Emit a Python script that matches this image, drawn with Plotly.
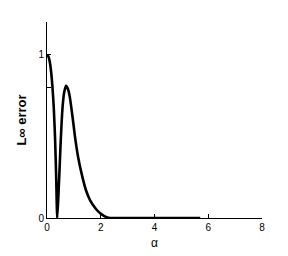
import plotly.graph_objects as go

alpha = [0.0, 0.05, 0.1, 0.15, 0.2, 0.25, 0.3, 0.34, 0.38,
         0.42, 0.46, 0.51, 0.58, 0.64, 0.71, 0.78, 0.85, 0.95, 1.04, 1.15, 1.29,
         1.45, 1.6, 1.8, 1.97, 2.15, 2.34, 3.0, 4.0, 5.0, 5.7]
err = [1.0, 0.99, 0.96, 0.90, 0.81, 0.68, 0.49, 0.26, 0.0,
       0.12, 0.27, 0.47, 0.68, 0.77, 0.81, 0.79, 0.74, 0.62, 0.50, 0.38, 0.27,
       0.17, 0.11, 0.06, 0.03, 0.01, 0.0, 0.0, 0.0, 0.0, 0.0]

x_ticks = [0, 2, 4, 6, 8]
y_ticks = [0, 0.8, 1, 1.2]
y_tick_text = ["0", "", "1", ""]

fig = go.Figure()
fig.add_trace(go.Scatter(x=alpha, y=err, mode="lines",
                         line=dict(color="black", width=2.6, shape="spline", smoothing=0.5),
                         showlegend=False))

fig.update_layout(
    width=288, height=256,
    margin=dict(l=39, r=34, t=14, b=46),
    paper_bgcolor="white", plot_bgcolor="white",
    font=dict(family="Liberation Sans, Arial, sans-serif", size=10, color="black"),
    annotations=[dict(text="α", xref="paper", yref="paper", x=0.5, y=0,
                      xanchor="center", yanchor="top", yshift=-16, showarrow=False,
                      font=dict(size=12))],
)
fig.update_xaxes(range=[0, 8], tickvals=x_ticks, ticks="inside", ticklen=4,
                 tickcolor="black", showline=True, linecolor="black", linewidth=1,
                 showgrid=False, zeroline=False, tickfont=dict(size=10))
fig.update_yaxes(range=[0, 1.2], tickvals=y_ticks, ticktext=y_tick_text,
                 ticks="inside", ticklen=4, tickcolor="black",
                 showline=True, linecolor="black", linewidth=1,
                 showgrid=False, zeroline=False,
                 title=dict(text="<b>L∞ error</b>", font=dict(size=13), standoff=8),
                 tickfont=dict(size=10))

fig.write_html("out.html")
